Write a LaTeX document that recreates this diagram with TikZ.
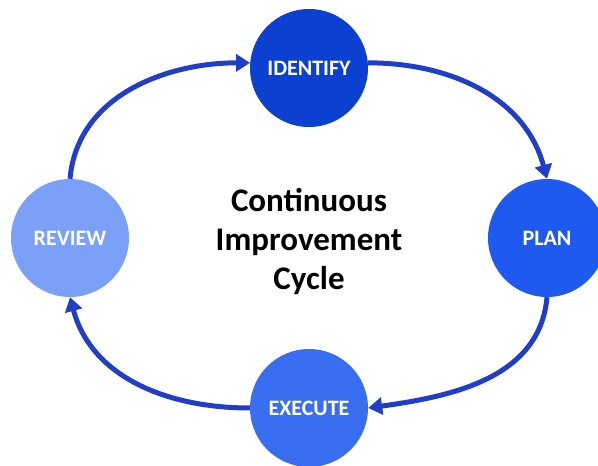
\documentclass[tikz,border=0pt]{standalone}
\usepackage{fontspec}
\setmainfont{Carlito}
\usetikzlibrary{arrows.meta}
\definecolor{cidentify}{RGB}{11,64,208}
\definecolor{cplan}{RGB}{31,90,240}
\definecolor{cexecute}{RGB}{58,110,240}
\definecolor{creview}{RGB}{122,160,248}
\definecolor{carrow}{RGB}{32,62,200}
\tikzset{
    stage/.style = {circle, draw=none, minimum size=118pt, inner sep=0pt, align=center, text=white, font=\fontsize{22}{24}\selectfont\bfseries},
    cyc/.style = {-{Triangle[length=14pt,width=17pt]}, line width=5pt, carrow},
    title/.style = {align=center, font=\fontsize{33}{39}\selectfont\bfseries}
}
\begin{document}
\begin{tikzpicture}[x=1pt,y=1pt]
\useasboundingbox (0,0) rectangle (598,466);
%
\node[stage, fill=cidentify] at (309,398) (ident) {IDENTIFY};
\node[stage, fill=cplan]     at (547,228) (plan)  {PLAN};
\node[stage, fill=cexecute]  at (309,58)  (exec)  {EXECUTE};
\node[stage, fill=creview]   at (70,228)  (rev)   {REVIEW};
\node[title] at (309,225) (cycle) {Continuous\\Improvement\\Cycle};
%
\draw[cyc] (ident.5) to[out=0,in=105] (plan.north);
\draw[cyc] (plan.south) to[out=-95,in=8] (exec.east);
\draw[cyc] (exec.west) to[out=180,in=-75] (rev.south);
\draw[cyc] (rev.north) to[out=85,in=180] (ident.175);
\end{tikzpicture}
\end{document}
